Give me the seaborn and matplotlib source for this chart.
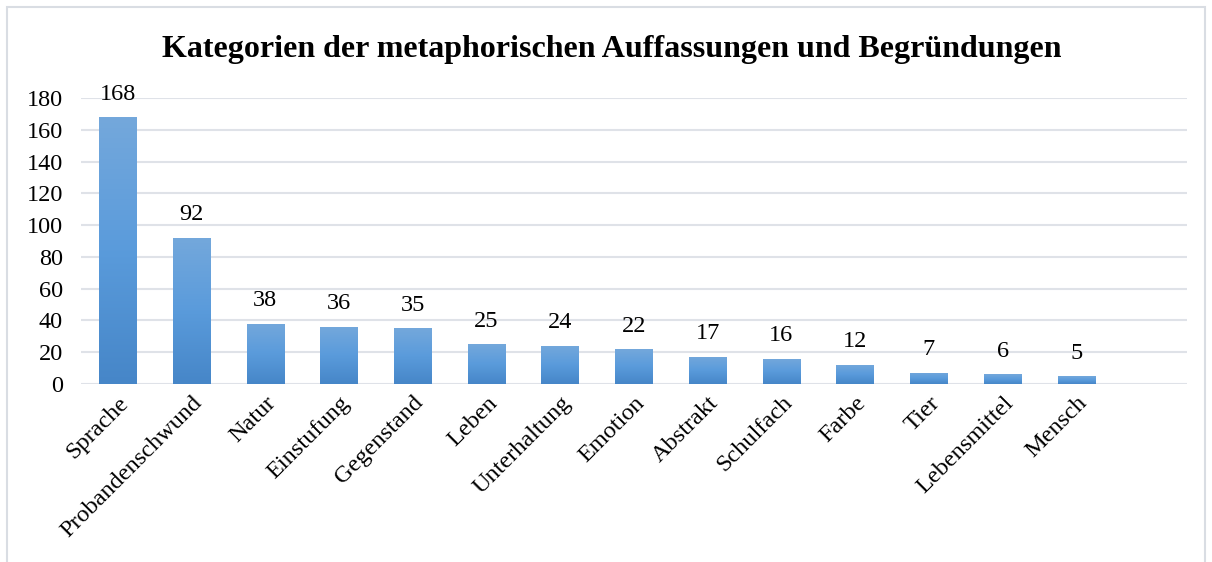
# Bar chart: categories of metaphorical conceptions and justifications

import numpy as np
import pandas as pd
import matplotlib
matplotlib.use("Agg")
import matplotlib.pyplot as plt
from matplotlib.colors import LinearSegmentedColormap
from matplotlib.patches import Rectangle
import seaborn as sns

categories = ["Sprache", "Probandenschwund", "Natur", "Einstufung", "Gegenstand",
              "Leben", "Unterhaltung", "Emotion", "Abstrakt", "Schulfach",
              "Farbe", "Tier", "Lebensmittel", "Mensch"]
counts = [168, 92, 38, 36, 35, 25, 24, 22, 17, 16, 12, 7, 6, 5]
yticks = [0, 20, 40, 60, 80, 100, 120, 140, 160, 180]

df = pd.DataFrame({"Kategorie": categories, "Anzahl": counts})

sns.set_theme(style="white")
plt.rcParams["font.family"] = ["Liberation Serif", "DejaVu Serif"]

fig = plt.figure(figsize=(12.12, 5.62), dpi=100)
ax = fig.add_axes([81 / 1212, 1 - 384 / 562, (1187 - 81) / 1212, (384 - 98) / 562])

sns.barplot(data=df, x="Kategorie", y="Anzahl", color="#5b9bd5", width=0.51,
            ax=ax, zorder=3)

# vertical gradient inside each bar, like the office chart
cmap = LinearSegmentedColormap.from_list("bar", ["#4686c8", "#5a9bdb", "#74a8dc"])
grad = np.linspace(0, 1, 256).reshape(-1, 1)
for p in ax.patches:
    x0, w, h = p.get_x(), p.get_width(), p.get_height()
    p.set_facecolor("none")
    p.set_edgecolor("none")
    im = ax.imshow(grad, cmap=cmap, origin="lower", aspect="auto",
                   extent=[x0, x0 + w, 0, h], zorder=3)
    im.set_clip_path(p)
    ax.annotate(f"{int(h)}", (x0 + w / 2, h), xytext=(0, 9), textcoords="offset points",
                ha="center", va="bottom", fontsize=17.5, color="#000000",
                annotation_clip=False)

ax.set_xlim(-0.5, 14.5)
ax.set_ylim(0, 180)
ax.set_yticks(yticks)
ax.yaxis.grid(True, color="#dfe2e8", linewidth=1.5, zorder=0)
ax.xaxis.grid(False)
for s in ax.spines.values():
    s.set_visible(False)
ax.set_xlabel("")
ax.set_ylabel("")
ax.tick_params(axis="y", length=0, pad=13, labelsize=17.5, labelcolor="#000000")
ax.tick_params(axis="x", length=0, pad=6, labelsize=17.5, labelcolor="#000000")
plt.setp(ax.get_xticklabels(), rotation=45, ha="right", rotation_mode="anchor")

fig.text(0.505, 1 - 49 / 562, "Kategorien der metaphorischen Auffassungen und Begründungen",
         ha="center", va="center", fontsize=23, fontweight="bold", color="#000000")

# light frame around the chart area
fig.patches.append(Rectangle((7 / 1212, -0.01), (1205 - 7) / 1212, 1 - 7 / 562 + 0.01,
                             transform=fig.transFigure, fill=False,
                             edgecolor="#d9dde3", linewidth=1.5))

fig.savefig("out.png", dpi=100, facecolor="white")
